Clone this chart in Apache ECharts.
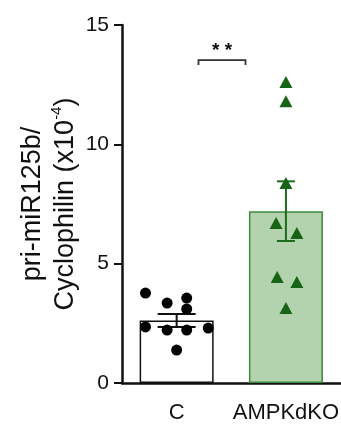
<!DOCTYPE html>
<html style="height: 100%">
<head>
	<meta charset="utf-8">
</head>
<body style="height: 100%; margin: 0; background: #fff">
<div id="container" style="width: 341px; height: 426px"></div>
<script type="text/javascript" src="https://cdn.jsdelivr.net/npm/echarts@6/dist/echarts.min.js"></script>
<script type="text/javascript">
    // groups
    var categories = ['C', 'AMPKdKO'];
    var yTicks = [0, 5, 10, 15];

    // bar heights (mean) and SEM
    var barMeans = [2.62, 7.2];
    var barSem = [0.27, 1.25];

    // individual points, C group
    var cValues = [3.77, 3.35, 3.56, 3.10, 2.35, 2.22, 2.22, 2.30, 1.38];
    var cJitter = [-0.285, -0.087, 0.092, 0.092, -0.285, -0.087, 0.092, 0.289, 0];

    // individual points, AMPKdKO group
    var koValues = [12.61, 11.81, 8.38, 6.70, 6.28, 4.44, 4.23, 3.14];
    var koJitter = [0, 0, 0, -0.09, 0.1, -0.08, 0.1, 0];

    // significance bracket: from, to, height
    var sigBracket = [0.2, 0.63, 13.53];
    var sigLabel = '* *';

    var capWidths = [38, 18];
    var errColors = ['#111', '#1d6b1d'];

    var dom = document.getElementById("container");
    var myChart = echarts.init(dom);

    function pairs(offsets, values, idx) {
        return values.map(function (v, i) { return [idx + offsets[i], v]; });
    }

    var option = {
        backgroundColor: '#fff',
        animation: false,
        grid: {left: 122, right: -4, top: 25, bottom: 43},
        xAxis: [{
            type: 'category',
            data: categories,
            axisLine: {lineStyle: {color: '#111', width: 2.5}},
            axisTick: {alignWithLabel: true, length: 7, lineStyle: {color: '#111', width: 2}},
            axisLabel: {interval: 0, hideOverlap: false, color: '#111', fontSize: 22, fontFamily: 'Liberation Sans', margin: 19}
        }, {
            type: 'value',
            min: -0.5,
            max: 1.5,
            show: false
        }],
        yAxis: {
            type: 'value',
            min: yTicks[0],
            max: yTicks[yTicks.length - 1],
            interval: 5,
            splitLine: {show: false},
            axisLine: {show: true, onZero: false, lineStyle: {color: '#111', width: 2.5}},
            axisTick: {show: true, length: 8, lineStyle: {color: '#111', width: 2}},
            axisLabel: {color: '#111', fontSize: 21, fontFamily: 'Liberation Sans', margin: 13},
            name: 'pri-miR125b/\nCyclophilin (x10{sup|-4})',
            nameLocation: 'middle',
            nameRotate: 90,
            nameGap: 40,
            nameMoveOverlap: false,
            nameTextStyle: {
                color: '#111', fontSize: 27, lineHeight: 33, fontFamily: 'Liberation Sans',
                rich: {sup: {fontSize: 15, verticalAlign: 'top', lineHeight: 20, color: '#111', fontFamily: 'Liberation Sans'}}
            }
        },
        series: [{
            type: 'bar',
            barWidth: 74,
            z: 1,
            data: [
                {value: barMeans[0], itemStyle: {color: '#fff', borderColor: '#111', borderWidth: 1.5}},
                {value: barMeans[1], itemStyle: {color: '#b3d3ae', borderColor: '#3d8b3d', borderWidth: 1.5}}
            ]
        }, {
            type: 'custom',
            xAxisIndex: 1,
            z: 3,
            data: barMeans.map(function (m, i) { return [i, m, barSem[i]]; }),
            renderItem: function (params, api) {
                var i = api.value(0);
                var hi = api.coord([i, api.value(1) + api.value(2)]);
                var lo = api.coord([i, api.value(1) - api.value(2)]);
                var w = capWidths[params.dataIndex] / 2;
                var style = {stroke: errColors[params.dataIndex], lineWidth: 2};
                return {
                    type: 'group',
                    children: [
                        {type: 'line', shape: {x1: hi[0], y1: hi[1], x2: lo[0], y2: lo[1]}, style: style},
                        {type: 'line', shape: {x1: hi[0] - w, y1: hi[1], x2: hi[0] + w, y2: hi[1]}, style: style},
                        {type: 'line', shape: {x1: lo[0] - w, y1: lo[1], x2: lo[0] + w, y2: lo[1]}, style: style}
                    ]
                };
            }
        }, {
            type: 'scatter',
            xAxisIndex: 1,
            z: 4,
            symbol: 'circle',
            symbolSize: 11,
            itemStyle: {color: '#000', opacity: 1},
            data: pairs(cJitter, cValues, 0)
        }, {
            type: 'scatter',
            xAxisIndex: 1,
            z: 4,
            symbol: 'triangle',
            symbolSize: [13, 12],
            itemStyle: {color: '#176417', opacity: 1},
            data: pairs(koJitter, koValues, 1)
        }, {
            type: 'custom',
            xAxisIndex: 1,
            z: 3,
            data: [sigBracket],
            renderItem: function (params, api) {
                var a = api.coord([api.value(0), api.value(2)]);
                var b = api.coord([api.value(1), api.value(2)]);
                return {
                    type: 'group',
                    children: [{
                        type: 'polyline',
                        shape: {points: [[a[0], a[1] + 5], [a[0], a[1]], [b[0], b[1]], [b[0], b[1] + 5]]},
                        style: {stroke: '#333', lineWidth: 1.8, fill: null}
                    }, {
                        type: 'text',
                        x: (a[0] + b[0]) / 2,
                        y: a[1],
                        style: {text: sigLabel, fontSize: 19, fontFamily: 'Liberation Sans', fontWeight: 'bold', fill: '#111', align: 'center', verticalAlign: 'bottom'}
                    }]
                };
            }
        }]
    };

    myChart.setOption(option);
</script>
</body>
</html>
